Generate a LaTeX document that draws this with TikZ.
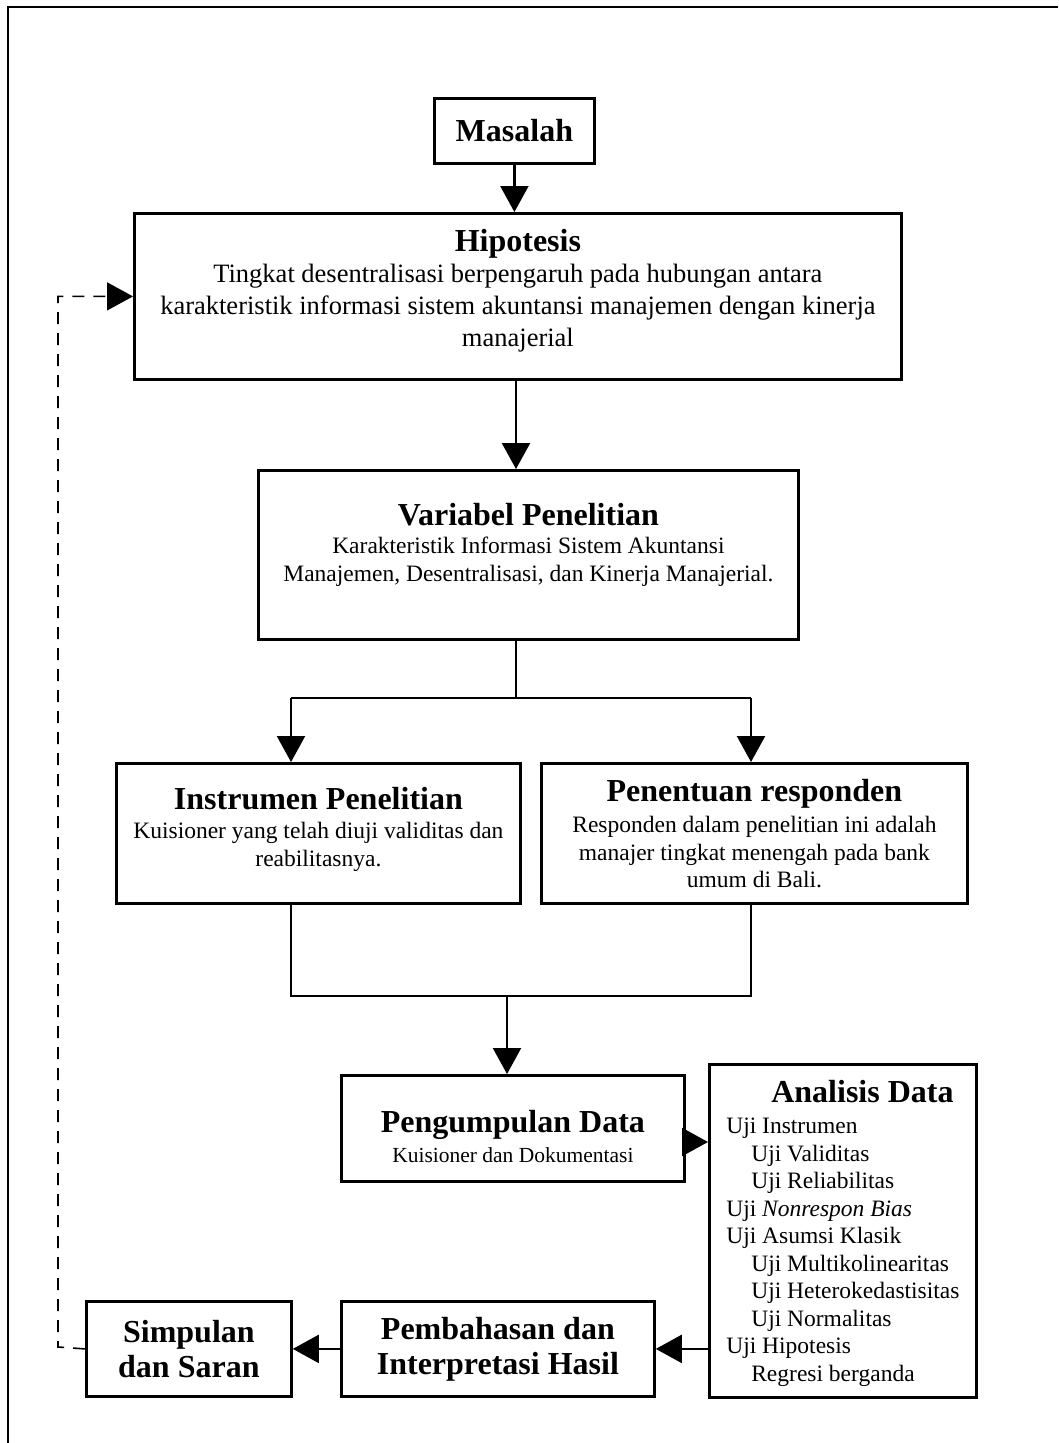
\documentclass[tikz,border=0pt]{standalone}
\usepackage{fontspec}
\setmainfont{Liberation Serif}
\usetikzlibrary{arrows.meta}
\newcommand\ttl{\fontsize{32}{36}\selectfont\bfseries}
\newcommand\bodyA{\fontsize{26.5}{32}\selectfont}
\newcommand\bodyB{\fontsize{23.5}{27.5}\selectfont}
\newcommand\bodyC{\fontsize{21.5}{25}\selectfont}
% invisible struts used to shift a block of text inside its box
\newcommand\dn[1]{\rule[-#1]{0pt}{#1}}
\newcommand\up[1]{\rule{0pt}{#1}}
\newcommand\ind{\hspace*{25pt}}
\begin{document}
\begin{tikzpicture}[x=1pt,y=-1pt,
  box/.style={draw, line width=2.8pt, align=center, inner sep=0pt, anchor=north west},
  conn/.style={line width=2.2pt},
  arr/.style={conn, -{Triangle[length=26pt,width=28pt]}},
  dashconn/.style={line width=1.6pt, dash pattern=on 12pt off 9pt, -{Triangle[length=26pt,width=28pt]}},
]
\useasboundingbox (0,0) rectangle (1058,1443);
\draw[line width=2.8pt] (1058,7) -- (8,7) -- (8,1443);

\node[box, minimum width=160pt, minimum height=65pt] (mas) at (433,97) {\ttl Masalah};

\node[box, minimum width=767pt, minimum height=166pt, font=\bodyA] (hip) at (133,212)
  {{\ttl Hipotesis}\\[-1pt]
   Tingkat desentralisasi berpengaruh pada hubungan antara\\
   karakteristik informasi sistem akuntansi manajemen dengan kinerja\\
   manajerial\dn{18pt}};

\node[box, minimum width=540pt, minimum height=169pt, font=\bodyB] (var) at (257,469)
  {{\ttl Variabel Penelitian}\\[1pt]
   Karakteristik Informasi Sistem Akuntansi\\
   Manajemen, Desentralisasi, dan Kinerja Manajerial.\dn{26pt}};

\node[box, minimum width=404pt, minimum height=140pt, font=\bodyB] (ins) at (115,762)
  {{\ttl Instrumen Penelitian}\\[2pt]
   Kuisioner yang telah diuji validitas dan\\
   reabilitasnya.\dn{14pt}};

\node[box, minimum width=426pt, minimum height=140pt, font=\bodyB] (res) at (540,762)
  {{\ttl Penentuan responden}\\[4pt]
   Responden dalam penelitian ini adalah\\
   manajer tingkat menengah pada bank\\
   umum di Bali.};

\node[box, minimum width=343pt, minimum height=106pt, font=\bodyC] (peng) at (340,1074)
  {{\ttl\up{38pt}Pengumpulan Data}\\[5pt]
   Kuisioner dan Dokumentasi};

\node[box, minimum width=267pt, minimum height=333pt, font=\bodyB] (ana) at (708,1063)
  {\begin{tabular}{@{}l@{}}
   \hspace*{45pt}{\ttl\up{30pt}Analisis Data}\\[4pt]
   Uji Instrumen\\
   \ind Uji Validitas\\
   \ind Uji Reliabilitas\\
   Uji \textit{Nonrespon Bias}\\
   Uji Asumsi Klasik\\
   \ind Uji Multikolinearitas\\
   \ind Uji Heterokedastisitas\\
   \ind Uji Normalitas\\
   Uji Hipotesis\\
   \ind Regresi berganda
   \end{tabular}};

\node[box, minimum width=313pt, minimum height=95pt, font=\ttl] (pem) at (340,1300)
  {Pembahasan dan\\[-1pt] Interpretasi Hasil};

\node[box, minimum width=205pt, minimum height=95pt, font=\ttl] (sim) at (85,1300)
  {Simpulan\\[-1pt] dan Saran};

% connectors
\draw[arr] (mas.south) -- (mas.south |- hip.north);
\coordinate (hb) at (516,378);
\draw[arr] (hip.south -| hb) -- (hb |- var.north);
\coordinate (split) at (516,698);
\coordinate (sl) at (291,698);
\coordinate (sr) at (751,698);
\draw[conn] (var.south -| split) -- (split);
\draw[conn] (sl) -- (sr);
\draw[arr] (sl) -- (sl |- ins.north);
\draw[arr] (sr) -- (sr |- res.north);
\coordinate (jl) at (291,996);
\coordinate (jr) at (751,996);
\coordinate (join) at (507,996);
\draw[conn] (jl |- ins.south) -- (jl) -- (jr) -- (jr |- res.south);
\draw[arr] (join) -- (join |- peng.north);
\coordinate (pa) at (683,1142);
\draw[arr] (pa) -- (pa -| ana.west);
\draw[arr] (pem.east -| ana.west) -- (pem.east);
\draw[arr] (pem.west) -- (sim.east);
\coordinate (dl) at (58,1347);
\draw[dashconn] (sim.west) -- (dl) -- (dl |- hip.west) -- (hip.west);
\end{tikzpicture}
\end{document}
